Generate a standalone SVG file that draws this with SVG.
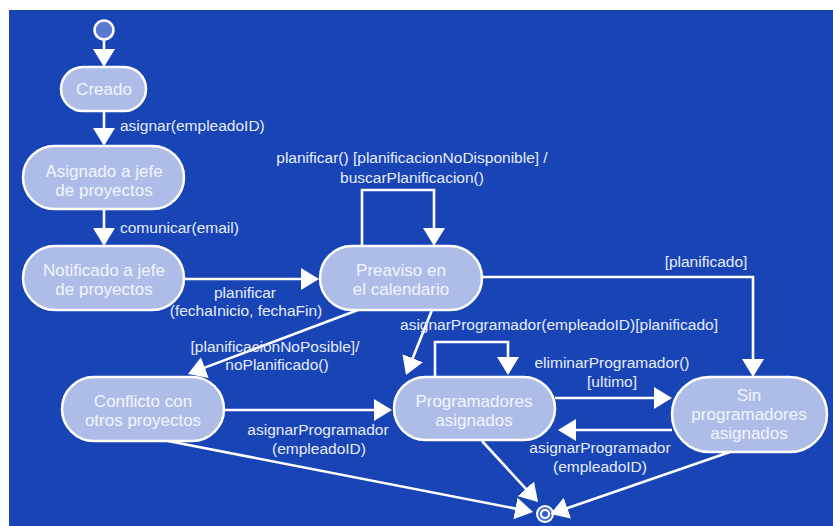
<svg xmlns="http://www.w3.org/2000/svg" width="833" height="526" viewBox="0 0 833 526">
<defs>
<style>
.bg{fill:#1844B6}
.node rect{fill:#AEBDE8;stroke:#FFFFFF;stroke-width:2.5}
.node text{font-family:"Liberation Sans",Arial,sans-serif;font-size:17px;fill:#F2F5FD;text-anchor:middle}
.lbl{font-family:"Liberation Sans",Arial,sans-serif;font-size:15.5px;fill:#E6ECFA}
.mid{text-anchor:middle}
.conn path{fill:none;stroke:#FFFFFF;stroke-width:2.6;marker-end:url(#ah)}
</style>
<marker id="ah" viewBox="0 0 18 22" markerWidth="18" markerHeight="22" refX="15" refY="11" orient="auto" markerUnits="userSpaceOnUse">
<path d="M0,0 L18,11 L0,22 Z" fill="#FFFFFF"/>
</marker>
</defs>
<rect width="833" height="526" fill="#FFFFFF"/>
<rect class="bg" x="9" y="10" width="824" height="516"/>

<g id="initial">
<circle cx="104" cy="30" r="9.5" fill="#5B79D0" stroke="#FFFFFF" stroke-width="2.5"/>
</g>
<g id="final">
<circle cx="545" cy="514" r="9" fill="#FFFFFF"/>
<circle cx="545" cy="514" r="7" fill="#4E6FD4"/>
<circle cx="545" cy="514" r="5" fill="#FFFFFF"/>
<circle cx="545" cy="514" r="3" fill="#3A5CCB"/>
</g>

<g id="creado" class="node">
<rect x="61" y="67" width="85" height="44" rx="22"/>
<text x="104" y="95">Creado</text>
</g>
<g id="asignado" class="node">
<rect x="23" y="146" width="161" height="63" rx="31.5"/>
<text x="104" y="177">Asignado a jefe</text>
<text x="104" y="196">de proyectos</text>
</g>
<g id="notificado" class="node">
<rect x="23" y="246" width="161" height="64" rx="32"/>
<text x="104" y="276">Notificado a jefe</text>
<text x="104" y="295">de proyectos</text>
</g>
<g id="preaviso" class="node">
<rect x="320" y="246" width="162" height="64" rx="32"/>
<text x="401" y="276">Preaviso en</text>
<text x="401" y="295">el calendario</text>
</g>
<g id="conflicto" class="node">
<rect x="62" y="377" width="162" height="64" rx="32"/>
<text x="143" y="407">Conflicto con</text>
<text x="143" y="426">otros proyectos</text>
</g>
<g id="programadores" class="node">
<rect x="394" y="377" width="161" height="63" rx="31.5"/>
<text x="474" y="407">Programadores</text>
<text x="474" y="426">asignados</text>
</g>
<g id="sinprogramadores" class="node">
<rect x="672" y="377" width="155" height="75" rx="37.5"/>
<text x="749" y="401">Sin</text>
<text x="749" y="420">programadores</text>
<text x="749" y="439">asignados</text>
</g>

<g id="connectors" class="conn">
<path d="M104,40 V64"/>
<path d="M104,111 V143"/>
<path d="M104,209 V243"/>
<path d="M184,279 H316"/>
<path d="M362,246 V190 H434 V243"/>
<path d="M482,277 H753 V374"/>
<path d="M358,310 L190.8,372.9"/>
<path d="M432,310 L407.1,372.2"/>
<path d="M435,377 V342 H508 V372"/>
<path d="M224,410 H389"/>
<path d="M555,398 H669"/>
<path d="M672,430 H561"/>
<path d="M168,441 L530.1,511.4"/>
<path d="M482,441 L536,499.8"/>
<path d="M730,452 L553.2,513"/>
</g>

<g id="labels">
<text class="lbl" x="120" y="131">asignar(empleadoID)</text>
<text class="lbl" x="120" y="233">comunicar(email)</text>
<text class="lbl mid" x="245" y="298">planificar</text>
<text class="lbl mid" x="246" y="316">(fechaInicio, fechaFin)</text>
<text class="lbl mid" x="412" y="163">planificar() [planificacionNoDisponible] /</text>
<text class="lbl mid" x="412" y="183">buscarPlanificacion()</text>
<text class="lbl mid" x="706" y="267">[planificado]</text>
<text class="lbl mid" x="559" y="330">asignarProgramador(empleadoID)[planificado]</text>
<text class="lbl mid" x="275" y="352">[planificacionNoPosible]/</text>
<text class="lbl mid" x="277" y="370">noPlanificado()</text>
<text class="lbl mid" x="612" y="368">eliminarProgramador()</text>
<text class="lbl mid" x="612" y="387">[ultimo]</text>
<text class="lbl mid" x="318" y="435">asignarProgramador</text>
<text class="lbl mid" x="319" y="454">(empleadoID)</text>
<text class="lbl mid" x="600" y="453">asignarProgramador</text>
<text class="lbl mid" x="600" y="472">(empleadoID)</text>
</g>
</svg>
